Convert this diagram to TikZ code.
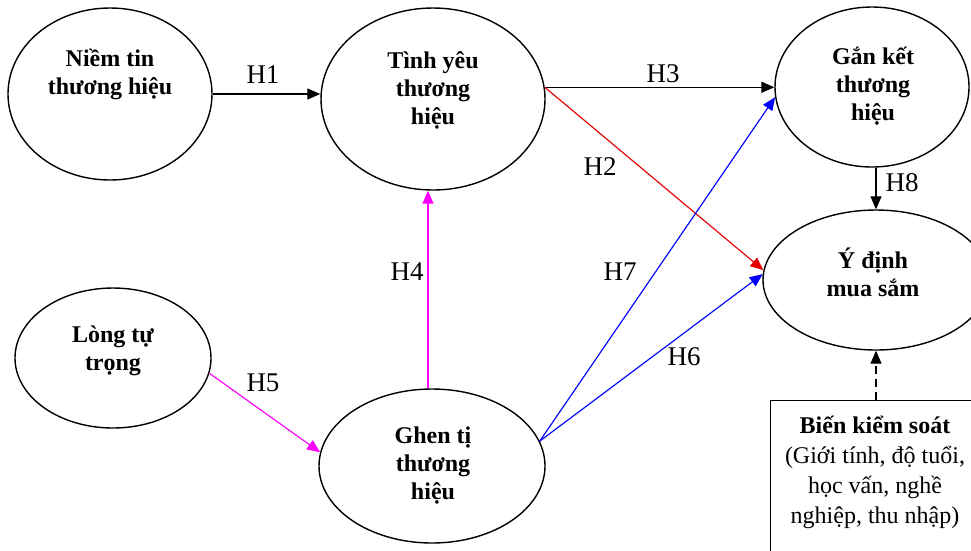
\documentclass[tikz,border=0pt]{standalone}
\usepackage{fontspec}
\setmainfont{Liberation Serif}
\usetikzlibrary{arrows.meta,shapes.geometric}
\definecolor{hmag}{RGB}{255,0,255}
\definecolor{hblue}{RGB}{0,0,255}
\definecolor{hred}{RGB}{230,0,0}
\begin{document}
\begin{tikzpicture}[x=1pt,y=1pt,
  ell/.style={draw, ellipse, line width=1.4pt, inner sep=0pt},
  nodetext/.style={font=\fontsize{24}{28}\selectfont\bfseries, align=center, inner sep=0pt},
  boxtext/.style={font=\fontsize{24}{30}\selectfont, align=center, inner sep=0pt},
  hyp/.style={font=\fontsize{27}{30}\selectfont, inner sep=0pt},
  arr/.style={line width=1.15pt, -{Triangle[length=13pt,width=11pt]}},
  ctrl/.style={draw, line width=1.4pt, inner sep=0pt, anchor=north west},
]
\useasboundingbox (0,0) rectangle (971,-550);
\clip (0,0) rectangle (971,-550);

% ellipses
\node[ell, minimum width=204pt, minimum height=172pt] (e1) at (110,-94) {};
\node[ell, minimum width=224pt, minimum height=182pt] (e2) at (433,-99) {};
\node[ell, minimum width=194pt, minimum height=160pt] (e3) at (872,-87) {};
\node[ell, minimum width=226pt, minimum height=140pt] (e4) at (876,-280) {};
\node[ell, minimum width=196pt, minimum height=140pt] (e5) at (113,-358) {};
\node[ell, minimum width=226pt, minimum height=154pt] (e6) at (432,-466) {};

% control box
\node[ctrl, minimum width=215pt, minimum height=170pt] (box) at (770,-400) {};

% texts
\node[nodetext] (t1) at (110,-74) {Niềm tin\\thương hiệu};
\node[nodetext] (t2) at (433,-90) {Tình yêu\\thương\\hiệu};
\node[nodetext] (t3) at (873,-86) {Gắn kết\\thương\\hiệu};
\node[nodetext] (t4) at (873,-272) {Ý định\\mua sắm};
\node[nodetext] (t5) at (113,-351) {Lòng tự\\trọng};
\node[nodetext] (t6) at (433,-466) {Ghen tị\\thương\\hiệu};
\node[boxtext] (tb) at (875,-472) {\textbf{Biến kiểm soát}\\(Giới tính, độ tuổi,\\học vấn, nghề\\nghiệp, thu nhập)};

% connectors
\draw[arr] (e1.east) -- (e1.east -| e2.west);
\draw[arr] (e2.6.7) -- (e2.6.7 -| e3.west);
\draw[arr, hred] (e2.6.7) -- (e4.175);
\draw[arr, hmag] ([xshift=-4pt]e6.north) -- ([xshift=-4pt]e6.north |- e2.south);
\draw[arr, hmag] (e5.-9) -- (e6.173);
\draw[arr, hblue] (e6.13) -- (e4.177.5);
\draw[arr, hblue] (e6.13) -- (e3.186);
\draw[arr] (e4.north |- e3.south) -- (e4.north);
\draw[arr, dash pattern=on 8pt off 5pt] (box.north -| e4.south) -- (e4.south);

% hypothesis labels
\node[hyp] (l1) at (263,-75) {H1};
\node[hyp] (l2) at (600,-167) {H2};
\node[hyp] (l3) at (663,-74) {H3};
\node[hyp] (l4) at (407,-272) {H4};
\node[hyp] (l5) at (263,-383) {H5};
\node[hyp] (l6) at (684,-357) {H6};
\node[hyp] (l7) at (620,-272) {H7};
\node[hyp] (l8) at (902,-183) {H8};
\end{tikzpicture}
\end{document}
